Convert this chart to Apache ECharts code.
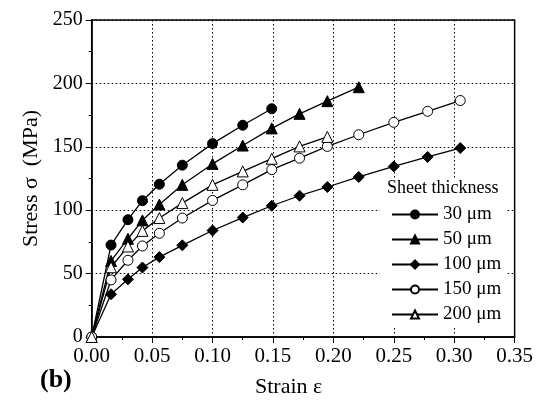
<!DOCTYPE html>
<html>
<head>
<meta charset="utf-8">
<script src="https://cdn.jsdelivr.net/npm/echarts@6/dist/echarts.min.js"></script>
<style>html,body{margin:0;padding:0;background:#fff}#c{width:536px;height:402px}</style>
</head>
<body>
<div id="c"></div>
<script>
var strain = [0, 0.016, 0.030, 0.042, 0.056, 0.075, 0.100, 0.125, 0.149, 0.172, 0.195, 0.221, 0.250, 0.278, 0.305];
var names = ['30 \u03bcm', '50 \u03bcm', '100 \u03bcm', '150 \u03bcm', '200 \u03bcm'];
var s30  = [0, 72.5, 92.5, 107.5, 120.5, 135.5, 152.5, 167, 180];
var s50  = [0, 60, 77.5, 92, 104.5, 120, 136.5, 151, 164.5, 176, 186, 197];
var s100 = [0, 33.7, 45.5, 54.8, 63, 72.3, 84, 94.2, 103.5, 111.4, 118.3, 126.2, 134.5, 142, 149];
var s150 = [0, 45, 60.5, 71.8, 81.8, 93.8, 107.7, 120, 132, 141, 150.3, 159.5, 169.3, 178, 186.5];
var s200 = [0, 55, 71.4, 83.7, 93.8, 105.6, 120, 130.6, 140.6, 150.3, 157.8];
var xTicks = [0, 0.05, 0.10, 0.15, 0.20, 0.25, 0.30, 0.35];
var yTicks = [0, 50, 100, 150, 200, 250];

function pairs(vals){ return vals.map(function(v,i){ return [strain[i], v]; }); }
var FONT = '"Liberation Serif", "DejaVu Serif", serif';
var symbols = ['circle', 'triangle', 'diamond', 'circle', 'triangle'];
var sizes = [10, 11, 11, 10, 11];
var fills = ['#000', '#000', '#000', '#fff', '#fff'];
var data = [s30, s50, s100, s150, s200];

var series = data.map(function(d, k){
  return {
    name: names[k], type: 'line', data: pairs(d),
    symbol: symbols[k], symbolSize: sizes[k], showSymbol: true,
    itemStyle: {color: fills[k], borderColor: '#000', borderWidth: 1},
    lineStyle: {color: '#000', width: 1.3}, smooth: false, animation: false, z: 2
  };
});

var chart = echarts.init(document.getElementById('c'), null, {renderer: 'canvas'});
chart.setOption({
  animation: false,
  backgroundColor: '#fff',
  grid: {left: 91.7, right: 20, top: 20, bottom: 65, show: true, borderColor: '#000', borderWidth: 1.5, backgroundColor: 'transparent'},
  xAxis: {
    type: 'value', min: 0, max: 0.35, interval: 0.05,
    axisLine: {show: true, lineStyle: {color: '#000', width: 1.5}},
    axisTick: {show: true, length: 6, lineStyle: {color: '#000', width: 1}},
    minorTick: {show: true, splitNumber: 2, length: 3, lineStyle: {color: '#000', width: 1}},
    axisLabel: {fontFamily: FONT, fontSize: 21, color: '#000', margin: 9, formatter: function(v){ return v.toFixed(2); }},
    splitLine: {show: true, lineStyle: {color: '#000', type: [1.5, 2.5], width: 1}}
  },
  yAxis: {
    type: 'value', min: 0, max: 250, interval: 50,
    name: 'Stress \u03c3  (MPa)', nameLocation: 'middle', nameGap: 48,
    nameTextStyle: {fontFamily: FONT, fontSize: 22, color: '#000'},
    axisLine: {show: true, lineStyle: {color: '#000', width: 1.5}},
    axisTick: {show: true, length: 6, lineStyle: {color: '#000', width: 1}},
    minorTick: {show: true, splitNumber: 2, length: 3, lineStyle: {color: '#000', width: 1}},
    axisLabel: {fontFamily: FONT, fontSize: 20, color: '#000', margin: 9},
    splitLine: {show: true, lineStyle: {color: '#000', type: [1.5, 2.5], width: 1}}
  },
  legend: {
    orient: 'vertical', left: 386, top: 200, itemWidth: 46, itemHeight: 10, itemGap: 6,
    textStyle: {fontFamily: FONT, fontSize: 19, color: '#000'},
    data: names.map(function(n){ return {name: n}; }),
    z: 6
  },
  graphic: [
    {type: 'rect', shape: {x: 380, y: 178, width: 126, height: 148}, style: {fill: '#fff'}, z: 3},
    {type: 'text', left: 387, top: 179, style: {text: 'Sheet thickness', font: '18px ' + FONT, fill: '#000'}, z: 7},
    {type: 'text', left: 255, top: 376, style: {text: 'Strain \u03b5', font: '22px ' + FONT, fill: '#000'}, z: 7},
    {type: 'text', left: 40, top: 367, style: {text: '(b)', font: 'bold 26px ' + FONT, fill: '#000'}, z: 7}
  ],
  series: series
});
</script>
</body>
</html>
